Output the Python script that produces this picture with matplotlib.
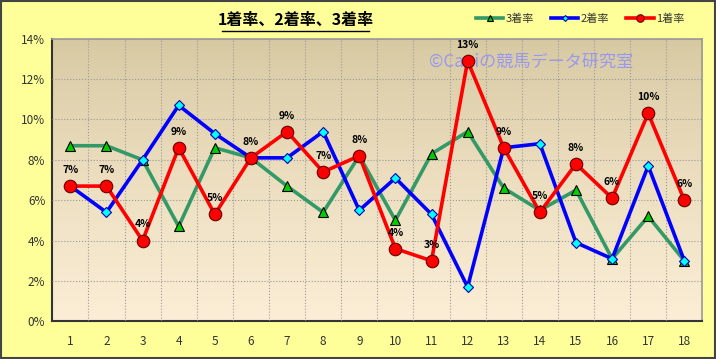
import numpy as np
import matplotlib
matplotlib.use("Agg")
import matplotlib.pyplot as plt
from matplotlib.ticker import FuncFormatter, MultipleLocator

plt.rcParams['font.family'] = ['Noto Sans CJK JP', 'DejaVu Sans']

# data (percent)
gates = list(range(1, 19))
rate3 = [8.7, 8.7, 8.0, 4.7, 8.6, 8.1, 6.7, 5.4, 8.2, 5.0, 8.3, 9.4, 6.6, 5.5, 6.5, 3.1, 5.2, 3.0]
rate2 = [6.7, 5.4, 8.0, 10.7, 9.3, 8.1, 8.1, 9.4, 5.5, 7.1, 5.3, 1.7, 8.6, 8.8, 3.9, 3.1, 7.7, 3.0]
rate1 = [6.7, 6.7, 4.0, 8.6, 5.3, 8.1, 9.4, 7.4, 8.2, 3.6, 3.0, 12.9, 8.6, 5.4, 7.8, 6.1, 10.3, 6.0]

fig = plt.figure(figsize=(7.16, 3.59), dpi=100, facecolor='#FFFF99')
ax = fig.add_axes([0.073, 0.105, 0.908, 0.787])

# gradient background for plot area
grad = np.linspace(0, 1, 256).reshape(-1, 1)
top = np.array([214, 200, 160]) / 255
bot = np.array([252, 238, 214]) / 255
img = top + (bot - top) * grad[:, :, None] ** 0.8
ax.imshow(img, extent=[0, 1, 0, 1], transform=ax.transAxes, aspect='auto', zorder=0)

x = np.array(gates)
ax.plot(x, rate3, color='#339966', lw=2.6, marker='^', ms=7, mfc='#00CC00', mec='black', mew=0.8,
        label='3着率', zorder=3)
ax.plot(x, rate2, color='#0000FF', lw=2.6, marker='D', ms=5, mfc='#00FFFF', mec='#0000AA', mew=0.8,
        label='2着率', zorder=4)
ax.plot(x, rate1, color='#FF0000', lw=2.6, marker='o', ms=9, mfc='#FF0000', mec='#660000', mew=0.8,
        label='1着率', zorder=5)

for xi, v in zip(x, rate1):
    ax.text(xi, v + 0.55, f"{v:.0f}%", ha='center', va='bottom', fontsize=7.5,
            fontweight='bold', color='black', zorder=6)

ax.set_xlim(0.5, 18.5)
ax.set_ylim(0, 14)
ax.set_xticks(x)
ax.yaxis.set_major_locator(MultipleLocator(2))
ax.yaxis.set_major_formatter(FuncFormatter(lambda v, p: f"{v:.0f}%"))
ax.set_xticks(np.arange(1.5, 18.5, 1), minor=True)
ax.tick_params(axis='both', which='both', length=0, labelsize=8.5, colors='#333333', pad=10)
ax.tick_params(axis='y', pad=5)
ax.grid(True, which='minor', axis='x', color='#999999', ls=':', lw=0.8, zorder=1)
ax.grid(True, which='major', axis='y', color='#999999', ls=':', lw=0.8, zorder=1)
ax.set_axisbelow(False)

for s in ['left', 'bottom']:
    ax.spines[s].set_color('#333333')
    ax.spines[s].set_linewidth(1.5)
for s in ['top', 'right']:
    ax.spines[s].set_color('#999999')
    ax.spines[s].set_linewidth(1.2)

ax.text(0.58, 0.918, '©Caniの競馬データ研究室', transform=ax.transAxes, fontsize=12.3,
        color='#9999EE', ha='left', va='center', zorder=2)

fig.text(0.413, 0.945, '1着率、2着率、3着率', ha='center', va='center', fontsize=11.5,
         fontweight='bold', color='black')
fig.add_artist(plt.Line2D([0.31, 0.516], [0.913, 0.913], color='black', lw=1.0))

handles, labels = ax.get_legend_handles_labels()
leg = fig.legend(handles, labels, loc='center', bbox_to_anchor=(0.81, 0.947), ncol=3, frameon=False,
                 fontsize=8, handlelength=2.5, columnspacing=1.5, handletextpad=0.2, markerscale=0.6)
for t in leg.get_texts():
    t.set_color('#333333')

fig.add_artist(plt.Rectangle((0.001, 0.002), 0.997, 0.995, transform=fig.transFigure, fill=False,
                             edgecolor='#444444', lw=1.5))

fig.savefig('out.png', dpi=100, facecolor=fig.get_facecolor())
